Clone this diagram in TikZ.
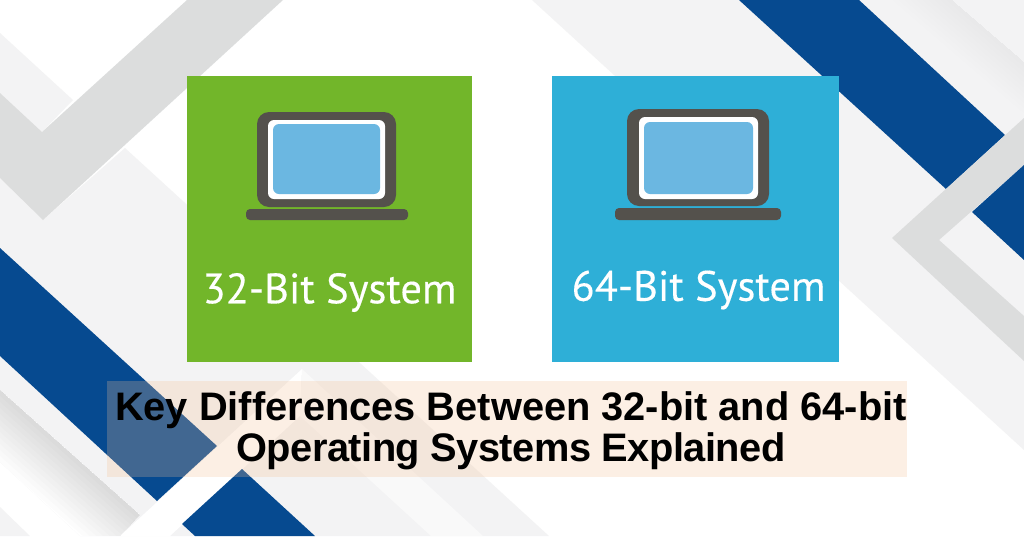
\documentclass[tikz,border=0pt]{standalone}
\usepackage{fontspec}
\setmainfont{Liberation Sans}
\newfontfamily\labelfont[FakeBold=0.25]{PT Sans}
\definecolor{mygreen}{RGB}{114,182,42}
\definecolor{mycyan}{RGB}{46,175,215}
\definecolor{mynavy}{RGB}{6,74,144}
\definecolor{mypale}{RGB}{243,243,244}
\definecolor{mygrey}{RGB}{220,221,221}
\definecolor{mybody}{RGB}{84,81,76}
\definecolor{myscreen}{RGB}{107,183,225}
\definecolor{mypeach}{RGB}{244,192,148}
\tikzset{
    card/.style={inner sep=0pt, outer sep=0pt, minimum width=#1, minimum height=286pt},
    cardlabel/.style={text=white, inner sep=0pt, font=\labelfont\fontsize{42.5}{43}\selectfont},
    laptopbody/.style={fill=mybody, rounded corners=12pt, inner sep=0pt},
    laptopglass/.style={fill=white, rounded corners=6pt, inner sep=0pt},
    laptopscreen/.style={fill=myscreen, rounded corners=6pt, inner sep=0pt},
    laptopbase/.style={fill=mybody, rounded corners=4pt, inner sep=0pt}
}

\begin{document}
\begin{tikzpicture}[x=1pt, y=-1pt]
    \useasboundingbox (0,0) rectangle (1024,536);
    \fill[white] (0,0) rectangle (1024,536);

    \fill[mypale] (0,33) -- (73,100) -- (42,132) -- (0,93) -- cycle;
    \fill[mypale] (125,148) -- (549,536) -- (80,536) -- (0,462) -- (0,178) -- (43,220) -- cycle;
    \fill[mygrey] (187,0) -- (283,0) -- (43,220) -- (0,178) -- (0,93) -- (42,132) -- cycle;
    \fill[white] (302,369) -- (120,536) -- (170,536) -- (300,416) -- cycle;
    \fill[mypale!50!white] (302,369) -- (483,536) -- (431,536) -- (300,416) -- cycle;
    \fill[mypale] (0,507) -- (30,536) -- (0,536) -- cycle;
    \begin{scope}
        \clip (0,390) -- (140,515) -- (120,536) -- (80,536) -- (0,462) -- cycle;
        \fill[white] (0,380) rectangle (140,536);
        \foreach \d in {6,12,...,72}
            \fill[black, opacity=.011] (0,390) -- (140,515) -- (140,515+\d) -- (0,390+\d) -- cycle;
    \end{scope}
    \fill[mynavy] (0,248) -- (217,446) -- (157,501) -- (0,356) -- cycle;
    \fill[mynavy] (242,469) -- (182,524) -- (195,536) -- (315,536) -- cycle;

    \fill[mypale] (532,0) -- (1024,0) -- (1024,450) -- cycle;
    \foreach \d in {6,12,...,60}
        \fill[black, opacity=.005] (952,0) -- (1024,62) -- (1024,62+.86*\d) -- (952-\d,0) -- cycle;
    \fill[mynavy] (739,0) -- (859,0) -- (1005,135) -- (946,189) -- cycle;
    \fill[mygrey] (892,238) -- (1024,118) -- (1024,165) -- (939,240) -- (1024,316) -- (1024,361) -- cycle;
    \fill[mynavy] (972,212) -- (1024,165) -- (1024,260) -- cycle;

    \node[card=285pt, fill=mygreen] (card32) at (329.5,219) {};
    \node[card=287pt, fill=mycyan] (card64) at (695.5,219) {};

    \node[laptopbody, minimum width=139pt, minimum height=95pt] (body32) at (326.5,159.5) {};
    \node[laptopglass, minimum width=117pt, minimum height=79pt] (glass32) at (326.5,159.5) {};
    \node[laptopscreen, minimum width=107pt, minimum height=70pt] (screen32) at (326.5,159) {};
    \node[laptopbase, minimum width=162pt, minimum height=11pt] (base32) at (327,214.5) {};
    \node[cardlabel] (label32) at (329.5,292.5) {32-Bit System};

    \node[laptopbody, minimum width=142pt, minimum height=97pt] (body64) at (698,157.5) {};
    \node[laptopglass, minimum width=119pt, minimum height=82pt] (glass64) at (698.5,158) {};
    \node[laptopscreen, minimum width=109pt, minimum height=72pt] (screen64) at (698.5,158) {};
    \node[laptopbase, minimum width=166pt, minimum height=12pt] (base64) at (698,214) {};
    \node[cardlabel] (label64) at (698.5,290) {64-Bit System};

    \node[fill=mypeach, fill opacity=.25, inner sep=0pt, minimum width=800pt, minimum height=96pt] (titlebox) at (507,429) {};
    \node[align=center, inner sep=0pt, font=\bfseries\fontsize{39.8}{41}\selectfont] (title) at (511,430.5)
        {Key Differences Between 32-bit and 64-bit\\{\addfontfeature{LetterSpace=-1.3}Operating Systems Explained}};
\end{tikzpicture}
\end{document}
